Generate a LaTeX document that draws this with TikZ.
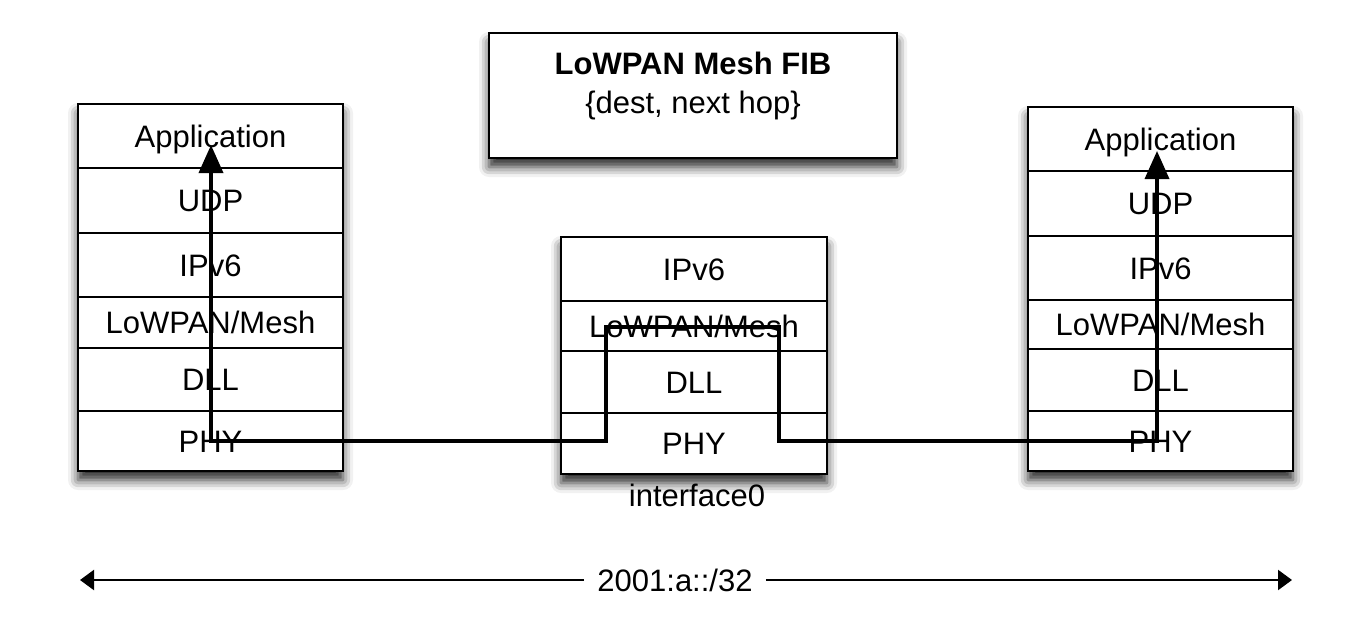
\documentclass[tikz,border=0pt]{standalone}
\usepackage{fontspec}
\setmainfont{Liberation Sans}
\usetikzlibrary{arrows.meta,shadows.blur}
\newcommand{\lowmesh}{LoWPAN/Mesh}
\tikzset{
  layer/.style={draw=black,line width=0.7pt},
  stackbg/.style={fill=white,blur shadow={shadow xshift=0pt,shadow yshift=-4.5pt,shadow blur radius=5pt,shadow opacity=85}},
  lbl/.style={font=\fontsize{15.5}{18}\selectfont,inner sep=0pt,text height=11.1pt,text depth=0pt},
  route/.style={line width=1.8pt,draw=black,{Triangle[width=12pt,length=14pt,fill=black]}-{Triangle[width=12pt,length=14pt,fill=black]}},
  span/.style={line width=1.1pt,draw=black,-{Triangle[width=10pt,length=7pt,fill=black]}}
}

\begin{document}
\begin{tikzpicture}[x=0.5pt,y=-0.5pt]
% 1 unit = 1 pixel of the 1364x632 sketch, y grows downwards
\useasboundingbox (0,0) rectangle (1364,632);

% FIB box
\draw[layer,stackbg] (489,33) rectangle (897,158);
\node[lbl,font=\fontsize{15.5}{18}\selectfont\bfseries] (fibtitle) at (693,63) {LoWPAN Mesh FIB};
\node[lbl] (fibsub) at (693,102) {\{dest, next hop\}};

% Stack backgrounds with shadow
\path[stackbg] (78,104) rectangle (343,471);
\path[stackbg] (561,237) rectangle (827,474);
\path[stackbg] (1028,107) rectangle (1293,471);

% Left stack
\foreach \name/\txt/\top/\bot in {lapp/Application/104/168, ludp/UDP/168/233,
    lip/IPv6/233/297, lmesh/\lowmesh/297/348, ldll/DLL/348/411, lphy/PHY/411/471}
{
    \draw[layer] (78,\top) rectangle (343,\bot);
    \node[lbl] (\name) at (210.5,{(\top+\bot)/2}) {\txt};
}
\draw[line width=1.4pt] (78,297) -- (343,297);

% Middle stack
\foreach \name/\txt/\top/\bot in {mip/IPv6/237/301, mmesh/\lowmesh/301/351,
    mdll/DLL/351/413, mphy/PHY/413/474}
{
    \draw[layer] (561,\top) rectangle (827,\bot);
    \node[lbl] (\name) at (694,{(\top+\bot)/2}) {\txt};
}
\node[lbl] (iface) at (697,495) {interface0};

% Right stack
\foreach \name/\txt/\top/\bot in {rapp/Application/107/171, rudp/UDP/171/236,
    rip/IPv6/236/300, rmesh/\lowmesh/300/349, rdll/DLL/349/411, rphy/PHY/411/471}
{
    \draw[layer] (1028,\top) rectangle (1293,\bot);
    \node[lbl] (\name) at (1160.5,{(\top+\bot)/2}) {\txt};
}

% Packet route
\coordinate (ltip) at (211,145);
\coordinate (rtip) at (1157,151);
\coordinate (mup) at (606,327);
\coordinate (mdown) at (779,327);
\draw[route] (ltip) -- (ltip |- lphy) -| (mup) -- (mdown) |- (rtip |- rphy) -- (rtip);

% Address range
\node[lbl,fill=white,inner xsep=6.5pt] (range) at (675,580) {2001:a::/32};
\coordinate (sleft) at (80,580);
\coordinate (sright) at (1292,580);
\draw[span] (range.west) -- (sleft);
\draw[span] (range.east) -- (sright);
\end{tikzpicture}
\end{document}
